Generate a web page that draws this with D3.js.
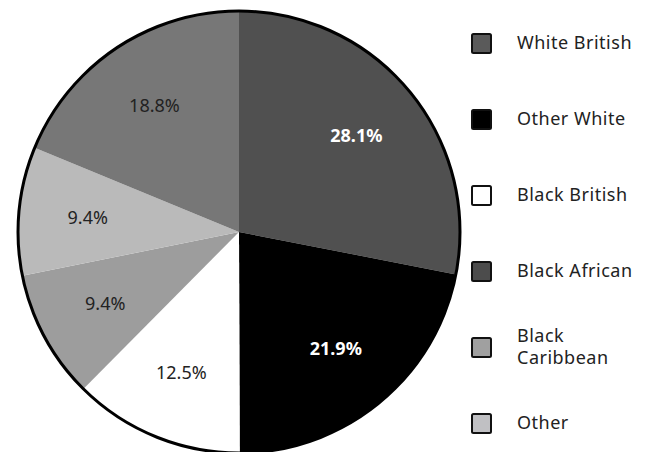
<!DOCTYPE html>
<html>
<head>
<meta charset="utf-8">
<script src="https://cdn.jsdelivr.net/npm/d3@7"></script>
<style>
  body { margin: 0; background: #fff; }
  svg { display: block; font-family: "Noto Sans", "Open Sans", sans-serif; }
</style>
</head>
<body>
<svg width="646" height="452"></svg>
<script>
var categories = ["White British", "Other White", "Black British", "Black African", "Black Caribbean", "Other"];
var values = [28.1, 21.9, 12.5, 9.4, 9.4, 18.8];
var sliceColors = ["#505050", "#000000", "#ffffff", "#9d9d9d", "#bababa", "#777777"];
var legendColors = ["#5a5a5a", "#000000", "#ffffff", "#4c4c4c", "#a0a0a0", "#c0c0c3"];
var labelColors = ["#fff", "#fff", "#222", "#222", "#222", "#222"];
var labelWeights = ["bold", "bold", "normal", "normal", "normal", "normal"];

var svg = d3.select("svg");
var cx = 239, cy = 232, radius = 221;

var pie = d3.pie().sort(null).value(function (d) { return d; });
var arcs = pie(values);

var arc = d3.arc().innerRadius(0).outerRadius(radius);
var labelArc = d3.arc().innerRadius(152).outerRadius(152);

var g = svg.append("g")
    .attr("transform", "translate(" + cx + "," + cy + ")");

g.selectAll("path.slice")
    .data(arcs)
    .enter()
    .append("path")
    .attr("class", "slice")
    .attr("d", arc)
    .attr("fill", function (d, i) { return sliceColors[i]; });

g.append("circle")
    .attr("r", radius)
    .attr("fill", "none")
    .attr("stroke", "#000")
    .attr("stroke-width", 3);

g.selectAll("text.pct")
    .data(arcs)
    .enter()
    .append("text")
    .attr("class", "pct")
    .attr("transform", function (d) { return "translate(" + labelArc.centroid(d) + ")"; })
    .attr("text-anchor", "middle")
    .attr("dy", "0.35em")
    .attr("font-size", 18)
    .attr("font-weight", function (d, i) { return labelWeights[i]; })
    .attr("fill", function (d, i) { return labelColors[i]; })
    .text(function (d) { return d.data.toFixed(1) + "%"; });

// legend
var legendY = d3.scalePoint()
    .domain(categories)
    .range([43, 423]);

var legend = svg.append("g")
    .selectAll("g")
    .data(categories)
    .enter()
    .append("g")
    .attr("transform", function (d) { return "translate(471," + legendY(d) + ")"; });

legend.append("rect")
    .attr("x", 1)
    .attr("y", -9)
    .attr("width", 19)
    .attr("height", 19)
    .attr("rx", 1.5)
    .attr("fill", function (d, i) { return legendColors[i]; })
    .attr("stroke", "#111")
    .attr("stroke-width", 2);

legend.each(function (d) {
    var words = d === "Black Caribbean" ? ["Black", "Caribbean"] : [d];
    var t = d3.select(this).append("text")
        .attr("x", 46)
        .attr("font-size", 18)
        .attr("letter-spacing", 0.5)
        .attr("fill", "#222");
    words.forEach(function (w, k) {
        t.append("tspan")
            .attr("x", 46)
            .attr("y", (k - (words.length - 1) / 2) * 22)
            .attr("dy", "0.35em")
            .text(w);
    });
});
</script>
</body>
</html>
